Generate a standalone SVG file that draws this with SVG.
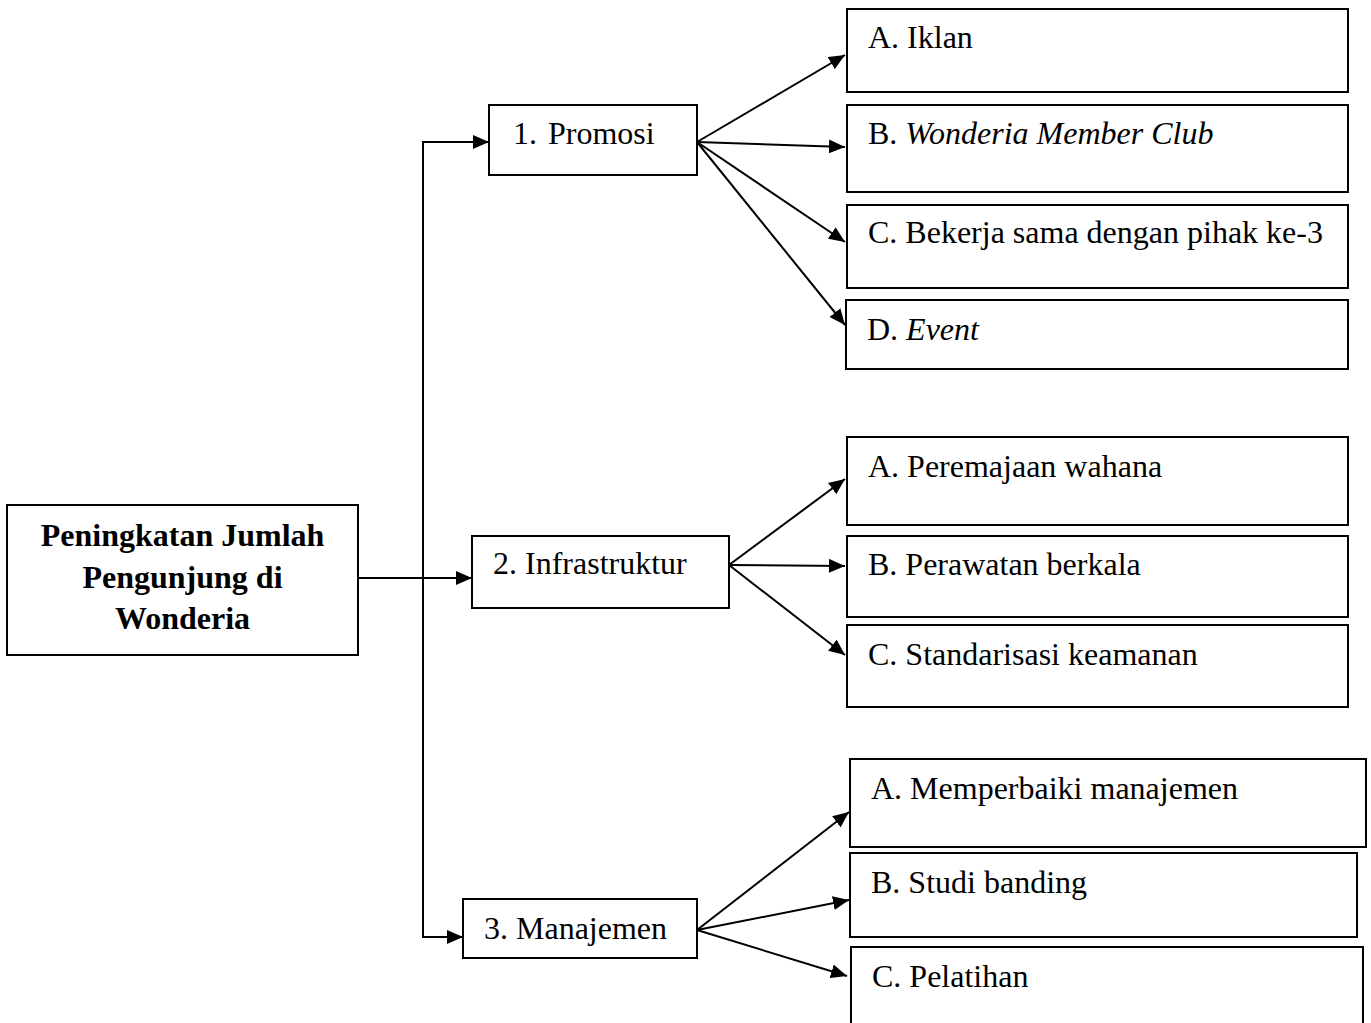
<svg xmlns="http://www.w3.org/2000/svg" width="1371" height="1023" viewBox="0 0 1371 1023">
<style>
.box{fill:#fff;stroke:#000;stroke-width:2}
.t{font-family:"Liberation Serif","Times New Roman",serif;font-size:32px;fill:#000}
.b{font-weight:bold;text-anchor:middle}
.i{font-style:italic}
.c{fill:none;stroke:#000;stroke-width:2}
</style>
<defs>
<marker id="ah" viewBox="0 0 16 14" refX="16" refY="7" markerWidth="16" markerHeight="14" markerUnits="userSpaceOnUse" orient="auto">
<path d="M0,0 L16,7 L0,14 Z" fill="#000"/>
</marker>
</defs>
<rect width="1371" height="1023" fill="#fff"/>
<g id="connectors">
<path class="c" d="M358,578 H472" marker-end="url(#ah)"/>
<path class="c" d="M423,578 V142 H489" marker-end="url(#ah)"/>
<path class="c" d="M423,578 V937 H463" marker-end="url(#ah)"/>
<path class="c" d="M697,142 L845,55" marker-end="url(#ah)"/>
<path class="c" d="M697,142 L845,147" marker-end="url(#ah)"/>
<path class="c" d="M697,142 L845,242" marker-end="url(#ah)"/>
<path class="c" d="M697,142 L845,325" marker-end="url(#ah)"/>
<path class="c" d="M729,565 L845,479" marker-end="url(#ah)"/>
<path class="c" d="M729,565 L845,566" marker-end="url(#ah)"/>
<path class="c" d="M729,565 L845,655" marker-end="url(#ah)"/>
<path class="c" d="M697,930 L849,812" marker-end="url(#ah)"/>
<path class="c" d="M697,930 L849,900" marker-end="url(#ah)"/>
<path class="c" d="M697,930 L847,976" marker-end="url(#ah)"/>
</g>
<g id="main">
<rect class="box" x="7" y="505" width="351" height="150"/>
<text class="t b" x="182.5" y="546">Peningkatan Jumlah</text>
<text class="t b" x="182.5" y="588">Pengunjung di</text>
<text class="t b" x="182.5" y="629">Wonderia</text>
</g>
<g id="promosi">
<rect class="box" x="489" y="105" width="208" height="70"/>
<text class="t" x="513" y="144">1. <tspan x="548">Promosi</tspan></text>
</g>
<g id="infrastruktur">
<rect class="box" x="472" y="536" width="257" height="72"/>
<text class="t" x="493" y="574">2. Infrastruktur</text>
</g>
<g id="manajemen">
<rect class="box" x="463" y="899" width="234" height="59"/>
<text class="t" x="484" y="939">3. Manajemen</text>
</g>
<g id="p-a">
<rect class="box" x="847" y="9" width="501" height="83"/>
<text class="t" x="868" y="48">A. Iklan</text>
</g>
<g id="p-b">
<rect class="box" x="847" y="105" width="501" height="87"/>
<text class="t" x="868" y="144">B. <tspan class="i">Wonderia Member Club</tspan></text>
</g>
<g id="p-c">
<rect class="box" x="847" y="205" width="501" height="83"/>
<text class="t" x="868" y="243">C. Bekerja sama dengan pihak ke-3</text>
</g>
<g id="p-d">
<rect class="box" x="846" y="300" width="502" height="69"/>
<text class="t" x="867" y="340">D. <tspan class="i">Event</tspan></text>
</g>
<g id="i-a">
<rect class="box" x="847" y="437" width="501" height="88"/>
<text class="t" x="868" y="477">A. Peremajaan wahana</text>
</g>
<g id="i-b">
<rect class="box" x="847" y="536" width="501" height="81"/>
<text class="t" x="868" y="575">B. Perawatan berkala</text>
</g>
<g id="i-c">
<rect class="box" x="847" y="625" width="501" height="82"/>
<text class="t" x="868" y="665">C. Standarisasi keamanan</text>
</g>
<g id="m-a">
<rect class="box" x="850" y="759" width="516" height="88"/>
<text class="t" x="871" y="799">A. Memperbaiki manajemen</text>
</g>
<g id="m-b">
<rect class="box" x="850" y="853" width="507" height="84"/>
<text class="t" x="871" y="893">B. Studi banding</text>
</g>
<g id="m-c">
<rect class="box" x="851" y="947" width="512" height="90"/>
<text class="t" x="872" y="987">C. Pelatihan</text>
</g>
</svg>
